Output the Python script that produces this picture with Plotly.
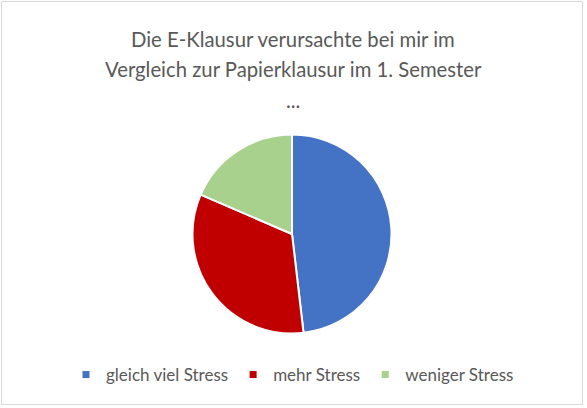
import plotly.graph_objects as go

# Data
categories = ["gleich viel Stress", "mehr Stress", "weniger Stress"]
values = [26, 18, 10]
colors = ["#4472C4", "#C00000", "#A9D18E"]
title_lines = ["Die E-Klausur verursachte bei mir im",
               "Vergleich zur Papierklausur im 1. Semester",
               "..."]

W, H = 587, 408
FONT = "Lato"
TXT = "#595959"

fig = go.Figure()
fig.add_trace(go.Pie(
    labels=categories, values=values,
    marker=dict(colors=colors, line=dict(color="white", width=2)),
    sort=False, direction="clockwise", rotation=0,
    textinfo="none", showlegend=False,
    domain=dict(x=[(292 - 99.5) / W, (292 + 99.5) / W],
                y=[1 - 333.5 / H, 1 - 134.5 / H]),
))
# legend proxies (small square markers like the original)
for cat, col in zip(categories, colors):
    fig.add_trace(go.Scatter(x=[None], y=[None], mode="markers", name=cat,
                             marker=dict(symbol="square", size=7, color=col),
                             showlegend=True, hoverinfo="skip"))

ys = [39, 69, 100]
for line, yy in zip(title_lines, ys):
    fig.add_annotation(text=line, xref="paper", yref="paper",
                       x=293 / W, y=1 - yy / H, xanchor="center", yanchor="middle",
                       showarrow=False, font=dict(family=FONT, size=20.3, color=TXT))

fig.add_shape(type="rect", xref="paper", yref="paper",
              x0=1.5 / W, x1=582.5 / W, y0=1 - 404.5 / H, y1=1 - 1.5 / H,
              line=dict(color="#D9D9D9", width=1), fillcolor="rgba(0,0,0,0)", layer="below")

fig.update_layout(
    width=W, height=H,
    margin=dict(l=0, r=0, t=0, b=0),
    paper_bgcolor="white", plot_bgcolor="white",
    xaxis=dict(visible=False), yaxis=dict(visible=False),
    legend=dict(orientation="h", x=66 / W, xanchor="left", y=1 - 375 / H, yanchor="middle",
                font=dict(family=FONT, size=17, color=TXT), bgcolor="rgba(0,0,0,0)",
                itemclick=False),
    showlegend=True,
)
fig.write_html("out.html", config={"displayModeBar": False},
               post_script="document.body.style.margin='0';")
